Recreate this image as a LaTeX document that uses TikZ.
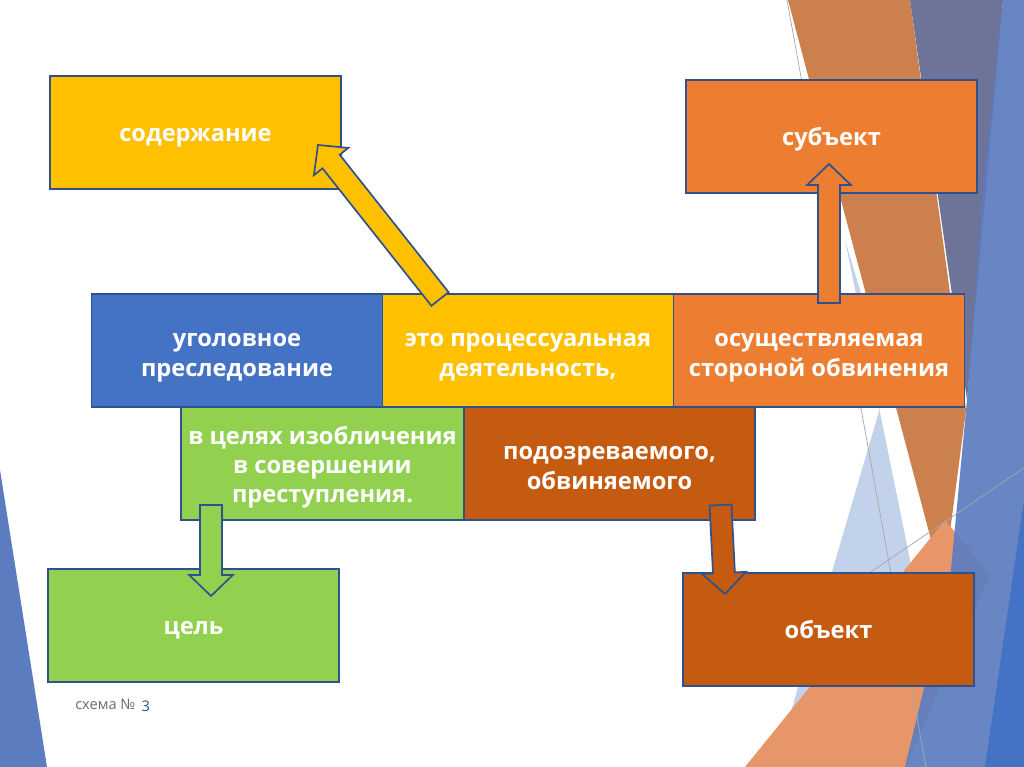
\documentclass[tikz,border=0pt]{standalone}
\usepackage{fontspec}
\setmainfont{Open Sans}
\usetikzlibrary{calc,positioning}
\definecolor{ramka}{HTML}{2F528F}
\definecolor{zheltyj}{HTML}{FFC000}
\definecolor{oranzh}{HTML}{ED7D31}
\definecolor{sinij}{HTML}{4472C4}
\definecolor{zelenyj}{HTML}{92D050}
\definecolor{korich}{HTML}{C55A11}
\definecolor{fonoranzh}{RGB}{204,128,78}
\definecolor{fonsvetl}{RGB}{230,150,104}
\definecolor{fonsiz}{RGB}{110,116,153}
\definecolor{fonsin}{RGB}{92,124,192}
\definecolor{fongolub}{RGB}{195,210,235}

% block arrow: fill colour, tail, tip
\newcommand{\blockarrow}[3]{%
  \coordinate (hb) at ($(#3)!15pt!(#2)$);
  \draw[strelka, fill=#1] ($(#2)!7.8pt!90:(#3)$) -- ($(hb)!7.8pt!90:(#3)$)
    -- ($(hb)!15.6pt!90:(#3)$) -- (#3) -- ($(hb)!15.6pt!-90:(#3)$)
    -- ($(hb)!7.8pt!-90:(#3)$) -- ($(#2)!7.8pt!-90:(#3)$) -- cycle;
}

\begin{document}
\begin{tikzpicture}[x=0.025cm, y=-0.025cm,
    blok/.style={draw=ramka, line width=1.3pt, minimum width=7.275cm,
      minimum height=2.825cm, inner sep=0pt, text=white, align=center,
      font=\bfseries\fontsize{16.8}{20.8}\selectfont,
      text height=17pt, text depth=3.5pt},
    dve/.style={text height=40pt},
    tri/.style={text height=59.6pt},
    strelka/.style={draw=ramka, line width=1.2pt, line join=miter},
    podpis/.style={inner sep=0pt, font=\fontsize{10.4}{12}\selectfont}]
    \useasboundingbox (0,0) rectangle (1024,767);
    \fill[white] (0,0) rectangle (1024,767);

    % Fon sprava
    \fill[fongolub] (845,240) -- (872,330) -- (880,408) -- (790,715)
      -- (900,715) -- (910,560) -- cycle;
    \fill[fonoranzh] (788,0) -- (910,0) -- (966,410) -- (943,585) -- cycle;
    \fill[fonsiz] (910,0) -- (1003,0) -- (967,400) -- cycle;
    \fill[fonsvetl] (745,767) -- (945,520) -- (990,575) -- (905,767) -- cycle;
    \fill[fonsin, opacity=0.92] (1003,0) -- (1024,0) -- (1024,767) -- (905,767)
      -- (950,580) -- (967,400) -- (983,190) -- cycle;
    \fill[sinij] (1024,500) -- (1024,767) -- (985,767) -- cycle;
    \draw[gray!70, line width=0.5pt] (787,0) -- (926,767);
    \draw[gray!70, line width=0.5pt] (800,620) -- (1024,468);

    % Fon sleva
    \fill[fonsin] (0,470) -- (47,767) -- (0,767) -- cycle;

    % Bloki
    \node[blok, fill=zheltyj] (soderzh) at (195.5,132.5) {содержание};
    \node[blok, fill=oranzh] (subjekt) at (831.5,136.5) {субъект};
    \node[blok, dve, fill=sinij] (presled) at (237,350.5) {уголовное\\преследование};
    \node[blok, dve, fill=zheltyj] (dejat) at (528,350.5) {это процессуальная\\деятельность,};
    \node[blok, dve, fill=oranzh] (storona) at (819,350.5) {осуществляемая\\стороной обвинения};
    \node[blok, tri, fill=zelenyj, minimum width=7.075cm] (izobl) at (322.5,463.5)
      {в целях изобличения\\в совершении\\преступления.};
    \node[blok, dve, fill=korich] (podozr) at (609.5,463.5) {подозреваемого,\\обвиняемого};
    \node[blok, fill=zelenyj] (cel) at (193.5,625.5) {цель};
    \node[blok, fill=korich] (objekt) at (828.5,629.5) {объект};

    % Strelki
    \coordinate (t1) at (440,299);
    \coordinate (e1) at (318,145);
    \coordinate (t2) at (829,303);
    \coordinate (e2) at (829,164);
    \coordinate (t3) at (211,505);
    \coordinate (e3) at (211,596);
    \coordinate (t4) at (720.5,505);
    \coordinate (e4) at (725,594);
    \blockarrow{zheltyj}{t1}{e1}
    \blockarrow{oranzh}{t2}{e2}
    \blockarrow{zelenyj}{t3}{e3}
    \blockarrow{korich}{t4}{e4}

    % Podpis
    \node[podpis, anchor=west, text=gray!85!black] (sxema) at (75,704) {схема №};
    \node[podpis, right=4pt of sxema.east, anchor=west, text=ramka,
      yshift=-1.5pt] (nomer) {3};
\end{tikzpicture}
\end{document}
